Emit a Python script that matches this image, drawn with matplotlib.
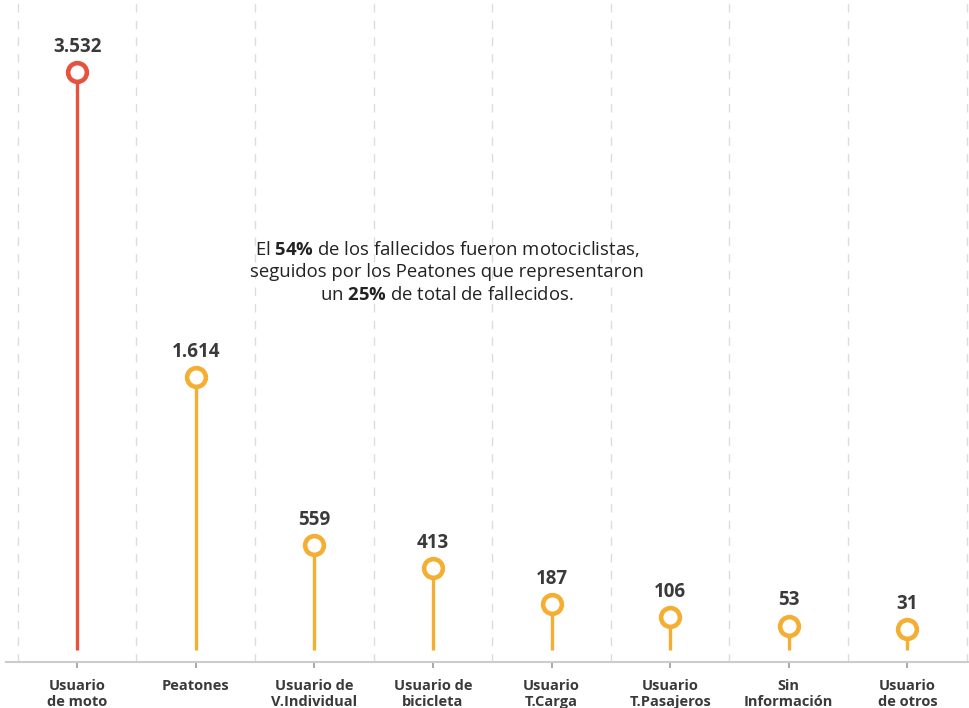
import numpy as np
import matplotlib
matplotlib.use("Agg")
import matplotlib.pyplot as plt

plt.rcParams['font.family'] = ['Open Sans', 'DejaVu Sans']
plt.rcParams['mathtext.fontset'] = 'custom'
plt.rcParams['mathtext.rm'] = 'Open Sans'
plt.rcParams['mathtext.bf'] = 'Open Sans:bold'

categories = ["Usuario\nde moto", "Peatones", "Usuario de\nV.Individual", "Usuario de\nbicicleta",
              "Usuario\nT.Carga", "Usuario\nT.Pasajeros", "Sin\nInformación", "Usuario\nde otros"]
values = [3532, 1614, 559, 413, 187, 106, 53, 31]
value_labels = ["3.532", "1.614", "559", "413", "187", "106", "53", "31"]

RED = "#E8513B"
ORANGE = "#F4AF33"
TEXT = "#3a3a3a"

fig = plt.figure(figsize=(9.69, 7.08), dpi=100)
ax = fig.add_axes([6 / 969, 1 - 662 / 708, 1 - 6 / 969, 662 / 708])

x = np.arange(len(values))
stem_base = -100
for i, v in enumerate(values):
    c = RED if i == 0 else ORANGE
    ax.plot([i, i], [stem_base, v], color=c, lw=2.4, solid_capstyle='butt', zorder=2)
    ax.plot(i, v, 'o', ms=13.5, mfc='white', mec=c, mew=3.3, zorder=3)
    ax.annotate(value_labels[i], (i, v), xytext=(0, 11), textcoords='offset points',
                ha='center', va='bottom', fontsize=13.5, fontweight='bold', color=TEXT)

for b in np.arange(-0.5, len(values), 1.0):
    ax.axvline(b, color='#dcdcdc', lw=1, ls=(0, (6, 6)), zorder=1)

ax.set_xlim(-0.6, 7.52)
ax.set_ylim(-176, 3985)
ax.set_xticks(x)
ax.set_xticklabels(categories, fontsize=10.5, fontweight='bold', color=TEXT, linespacing=1.2)
ax.tick_params(axis='x', length=4, width=1.2, color='#999999', pad=8)
ax.set_yticks([])
for s in ['top', 'right', 'left']:
    ax.spines[s].set_visible(False)
ax.spines['bottom'].set_color('#cccccc')
ax.spines['bottom'].set_linewidth(1.5)

note = ("El $\\mathbf{54\\%}$ de los fallecidos fueron motociclistas,\n"
        "seguidos por los Peatones que representaron\n"
        "un $\\mathbf{25\\%}$ de total de fallecidos.")
ax.text(3.12, 2280, note, ha='center', va='center', fontsize=13.3,
        color='#222222', linespacing=1.33)

fig.savefig("out.png", dpi=100)
